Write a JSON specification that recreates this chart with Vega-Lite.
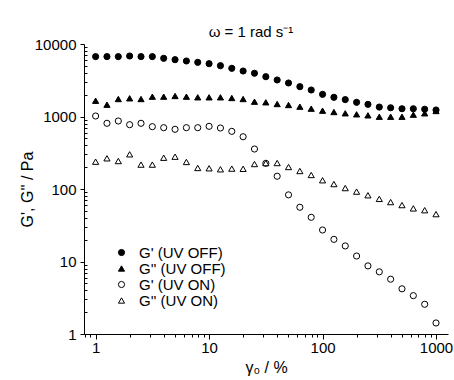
{
 "$schema": "https://vega.github.io/schema/vega-lite/v6.json",
 "autosize": "none",
 "width": 364,
 "height": 290,
 "padding": {"left": 84, "top": 44, "right": 6, "bottom": 46},
 "background": "white",
 "config": {
  "font": "Liberation Sans",
  "view": {"stroke": null},
  "axis": {"labelFont": "Liberation Sans", "labelFontSize": 15, "labelColor": "black", "titleFont": "Liberation Sans", "titleFontSize": 16, "titleFontWeight": "normal", "titleColor": "black", "domainColor": "black", "tickColor": "black", "grid": false}
 },
 "title": {"text": "ω = 1 rad s⁻¹", "fontSize": 15, "fontWeight": "normal", "font": "Liberation Sans", "color": "black", "dx": -15, "offset": -3},
 "datasets": {
  "d": [
   {"g": 1, "s": "G' (UV OFF)", "G": 6700}, {"g": 1.259, "s": "G' (UV OFF)", "G": 6700}, {"g": 1.585, "s": "G' (UV OFF)", "G": 6700}, {"g": 1.995, "s": "G' (UV OFF)", "G": 6830}, {"g": 2.512, "s": "G' (UV OFF)", "G": 6700}, {"g": 3.162, "s": "G' (UV OFF)", "G": 6700}, {"g": 3.981, "s": "G' (UV OFF)", "G": 6350}, {"g": 5.012, "s": "G' (UV OFF)", "G": 6080}, {"g": 6.31, "s": "G' (UV OFF)", "G": 5830}, {"g": 7.943, "s": "G' (UV OFF)", "G": 5590}, {"g": 10, "s": "G' (UV OFF)", "G": 5350}, {"g": 12.59, "s": "G' (UV OFF)", "G": 5020}, {"g": 15.85, "s": "G' (UV OFF)", "G": 4620}, {"g": 19.95, "s": "G' (UV OFF)", "G": 4240}, {"g": 25.12, "s": "G' (UV OFF)", "G": 3950}, {"g": 31.62, "s": "G' (UV OFF)", "G": 3540}, {"g": 39.81, "s": "G' (UV OFF)", "G": 3190}, {"g": 50.12, "s": "G' (UV OFF)", "G": 2900}, {"g": 63.1, "s": "G' (UV OFF)", "G": 2580}, {"g": 79.43, "s": "G' (UV OFF)", "G": 2320}, {"g": 100, "s": "G' (UV OFF)", "G": 2020}, {"g": 125.9, "s": "G' (UV OFF)", "G": 1840}, {"g": 158.5, "s": "G' (UV OFF)", "G": 1710}, {"g": 199.5, "s": "G' (UV OFF)", "G": 1570}, {"g": 251.2, "s": "G' (UV OFF)", "G": 1470}, {"g": 316.2, "s": "G' (UV OFF)", "G": 1350}, {"g": 398.1, "s": "G' (UV OFF)", "G": 1320}, {"g": 501.2, "s": "G' (UV OFF)", "G": 1280}, {"g": 631, "s": "G' (UV OFF)", "G": 1280}, {"g": 794.3, "s": "G' (UV OFF)", "G": 1260}, {"g": 1000, "s": "G' (UV OFF)", "G": 1230},
   {"g": 1, "s": "G'' (UV OFF)", "G": 1650}, {"g": 1.259, "s": "G'' (UV OFF)", "G": 1455}, {"g": 1.585, "s": "G'' (UV OFF)", "G": 1742}, {"g": 1.995, "s": "G'' (UV OFF)", "G": 1783}, {"g": 2.512, "s": "G'' (UV OFF)", "G": 1742}, {"g": 3.162, "s": "G'' (UV OFF)", "G": 1877}, {"g": 3.981, "s": "G'' (UV OFF)", "G": 1877}, {"g": 5.012, "s": "G'' (UV OFF)", "G": 1918}, {"g": 6.31, "s": "G'' (UV OFF)", "G": 1877}, {"g": 7.943, "s": "G'' (UV OFF)", "G": 1840}, {"g": 10, "s": "G'' (UV OFF)", "G": 1840}, {"g": 12.59, "s": "G'' (UV OFF)", "G": 1840}, {"g": 15.85, "s": "G'' (UV OFF)", "G": 1800}, {"g": 19.95, "s": "G'' (UV OFF)", "G": 1742}, {"g": 25.12, "s": "G'' (UV OFF)", "G": 1600}, {"g": 31.62, "s": "G'' (UV OFF)", "G": 1570}, {"g": 39.81, "s": "G'' (UV OFF)", "G": 1487}, {"g": 50.12, "s": "G'' (UV OFF)", "G": 1441}, {"g": 63.1, "s": "G'' (UV OFF)", "G": 1366}, {"g": 79.43, "s": "G'' (UV OFF)", "G": 1282}, {"g": 100, "s": "G'' (UV OFF)", "G": 1203}, {"g": 125.9, "s": "G'' (UV OFF)", "G": 1153}, {"g": 158.5, "s": "G'' (UV OFF)", "G": 1107}, {"g": 199.5, "s": "G'' (UV OFF)", "G": 1072}, {"g": 251.2, "s": "G'' (UV OFF)", "G": 1038}, {"g": 316.2, "s": "G'' (UV OFF)", "G": 993}, {"g": 398.1, "s": "G'' (UV OFF)", "G": 993}, {"g": 501.2, "s": "G'' (UV OFF)", "G": 993}, {"g": 631, "s": "G'' (UV OFF)", "G": 1059}, {"g": 794.3, "s": "G'' (UV OFF)", "G": 1107}, {"g": 1000, "s": "G'' (UV OFF)", "G": 1191},
   {"g": 1, "s": "G' (UV ON)", "G": 1016}, {"g": 1.259, "s": "G' (UV ON)", "G": 806}, {"g": 1.585, "s": "G' (UV ON)", "G": 867}, {"g": 1.995, "s": "G' (UV ON)", "G": 771}, {"g": 2.512, "s": "G' (UV ON)", "G": 806}, {"g": 3.162, "s": "G' (UV ON)", "G": 724}, {"g": 3.981, "s": "G' (UV ON)", "G": 701}, {"g": 5.012, "s": "G' (UV ON)", "G": 666}, {"g": 6.31, "s": "G' (UV ON)", "G": 701}, {"g": 7.943, "s": "G' (UV ON)", "G": 701}, {"g": 10, "s": "G' (UV ON)", "G": 732}, {"g": 12.59, "s": "G' (UV ON)", "G": 694}, {"g": 15.85, "s": "G' (UV ON)", "G": 624}, {"g": 19.95, "s": "G' (UV ON)", "G": 526}, {"g": 25.12, "s": "G' (UV ON)", "G": 356}, {"g": 31.62, "s": "G' (UV ON)", "G": 226}, {"g": 39.81, "s": "G' (UV ON)", "G": 150}, {"g": 50.12, "s": "G' (UV ON)", "G": 83}, {"g": 63.1, "s": "G' (UV ON)", "G": 56}, {"g": 79.43, "s": "G' (UV ON)", "G": 40.7}, {"g": 100, "s": "G' (UV ON)", "G": 27.2}, {"g": 125.9, "s": "G' (UV ON)", "G": 20.2}, {"g": 158.5, "s": "G' (UV ON)", "G": 16.4}, {"g": 199.5, "s": "G' (UV ON)", "G": 11.9}, {"g": 251.2, "s": "G' (UV ON)", "G": 8.7}, {"g": 316.2, "s": "G' (UV ON)", "G": 7.2}, {"g": 398.1, "s": "G' (UV ON)", "G": 5.7}, {"g": 501.2, "s": "G' (UV ON)", "G": 4.2}, {"g": 631, "s": "G' (UV ON)", "G": 3.38}, {"g": 794.3, "s": "G' (UV ON)", "G": 2.57}, {"g": 1000, "s": "G' (UV ON)", "G": 1.42},
   {"g": 1, "s": "G'' (UV ON)", "G": 238}, {"g": 1.259, "s": "G'' (UV ON)", "G": 265}, {"g": 1.585, "s": "G'' (UV ON)", "G": 243}, {"g": 1.995, "s": "G'' (UV ON)", "G": 301}, {"g": 2.512, "s": "G'' (UV ON)", "G": 217}, {"g": 3.162, "s": "G'' (UV ON)", "G": 217}, {"g": 3.981, "s": "G'' (UV ON)", "G": 270}, {"g": 5.012, "s": "G'' (UV ON)", "G": 279}, {"g": 6.31, "s": "G'' (UV ON)", "G": 236}, {"g": 7.943, "s": "G'' (UV ON)", "G": 195}, {"g": 10, "s": "G'' (UV ON)", "G": 193}, {"g": 12.59, "s": "G'' (UV ON)", "G": 187}, {"g": 15.85, "s": "G'' (UV ON)", "G": 191}, {"g": 19.95, "s": "G'' (UV ON)", "G": 190}, {"g": 25.12, "s": "G'' (UV ON)", "G": 221}, {"g": 31.62, "s": "G'' (UV ON)", "G": 228}, {"g": 39.81, "s": "G'' (UV ON)", "G": 228}, {"g": 50.12, "s": "G'' (UV ON)", "G": 201}, {"g": 63.1, "s": "G'' (UV ON)", "G": 177}, {"g": 79.43, "s": "G'' (UV ON)", "G": 156}, {"g": 100, "s": "G'' (UV ON)", "G": 132}, {"g": 125.9, "s": "G'' (UV ON)", "G": 117}, {"g": 158.5, "s": "G'' (UV ON)", "G": 103}, {"g": 199.5, "s": "G'' (UV ON)", "G": 92}, {"g": 251.2, "s": "G'' (UV ON)", "G": 82}, {"g": 316.2, "s": "G'' (UV ON)", "G": 73}, {"g": 398.1, "s": "G'' (UV ON)", "G": 66}, {"g": 501.2, "s": "G'' (UV ON)", "G": 60}, {"g": 631, "s": "G'' (UV ON)", "G": 54}, {"g": 794.3, "s": "G'' (UV ON)", "G": 51}, {"g": 1000, "s": "G'' (UV ON)", "G": 45}
  ]
 },
 "layer": [
  {
   "data": {"name": "d"},
   "mark": {"type": "point", "filled": true, "opacity": 1, "size": 38, "strokeWidth": 1},
   "encoding": {
    "x": {"field": "g", "type": "quantitative", "scale": {"type": "log", "domain": [0.79, 1275]}, "axis": {"orient": "bottom", "values": [1, 10, 100, 1000], "format": "d", "tickSize": 5, "labelPadding": 1, "title": "γ₀ / %", "titlePadding": 4, "domainWidth": 1}},
    "y": {"field": "G", "type": "quantitative", "scale": {"type": "log", "domain": [1, 10000]}, "axis": {"orient": "left", "values": [1, 10, 100, 1000, 10000], "format": "d", "tickSize": 4, "labelPadding": 4, "title": "G', G'' / Pa", "titlePadding": -1}},
    "shape": {"field": "s", "type": "nominal", "scale": {"domain": ["G' (UV OFF)", "G'' (UV OFF)", "G' (UV ON)", "G'' (UV ON)"], "range": ["circle", "triangle-up", "circle", "triangle-up"]}, "legend": {"orient": "none", "legendX": 30, "legendY": 201, "title": null, "labelFontSize": 15, "labelFont": "Liberation Sans", "labelColor": "black", "symbolSize": 38, "symbolStrokeWidth": 1, "rowPadding": 0, "labelOffset": 10}},
    "fill": {"field": "s", "type": "nominal", "scale": {"domain": ["G' (UV OFF)", "G'' (UV OFF)", "G' (UV ON)", "G'' (UV ON)"], "range": ["black", "black", "white", "white"]}, "legend": {"orient": "none", "legendX": 30, "legendY": 201, "title": null, "labelFontSize": 15, "labelFont": "Liberation Sans", "labelColor": "black", "symbolSize": 38, "symbolStrokeWidth": 1, "rowPadding": 0, "labelOffset": 10}},
    "stroke": {"field": "s", "type": "nominal", "scale": {"domain": ["G' (UV OFF)", "G'' (UV OFF)", "G' (UV ON)", "G'' (UV ON)"], "range": ["black", "black", "black", "black"]}, "legend": {"orient": "none", "legendX": 30, "legendY": 201, "title": null, "labelFontSize": 15, "labelFont": "Liberation Sans", "labelColor": "black", "symbolSize": 38, "symbolStrokeWidth": 1, "rowPadding": 0, "labelOffset": 10}}
   }
  },
  {
   "data": {"name": "d"},
   "mark": {"type": "point", "opacity": 0},
   "encoding": {
    "x": {"field": "g", "type": "quantitative", "scale": {"type": "log", "domain": [0.79, 1275]}, "axis": {"orient": "bottom", "values": [0.8, 0.9, 2, 3, 4, 5, 6, 7, 8, 9, 20, 30, 40, 50, 60, 70, 80, 90, 200, 300, 400, 500, 600, 700, 800, 900], "labels": false, "domain": false, "tickSize": 3, "title": null}},
    "y": {"field": "G", "type": "quantitative", "scale": {"type": "log", "domain": [1, 10000]}, "axis": {"orient": "left", "values": [2, 3, 4, 5, 6, 7, 8, 9, 20, 30, 40, 50, 60, 70, 80, 90, 200, 300, 400, 500, 600, 700, 800, 900, 2000, 3000, 4000, 5000, 6000, 7000, 8000, 9000], "labels": false, "domain": false, "tickSize": -3, "title": null}}
   }
  }
 ],
 "resolve": {"axis": {"x": "independent", "y": "independent"}}
}
